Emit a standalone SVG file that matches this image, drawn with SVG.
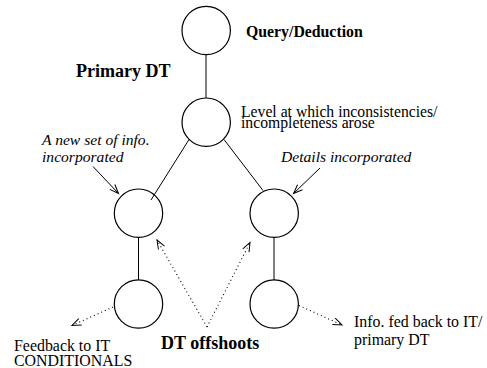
<svg xmlns="http://www.w3.org/2000/svg" width="487" height="368" viewBox="0 0 487 368">
  <style>
    .node { fill: none; stroke: #000; stroke-width: 1.2; }
    .edge { fill: none; stroke: #000; stroke-width: 1; }
    .dot { fill: none; stroke: #000; stroke-width: 1.1; stroke-dasharray: 1 3; }
    text { font-family: "Liberation Serif", "Times New Roman", serif; fill: #000; }
    .b { font-weight: bold; }
    .i { font-style: italic; }
  </style>
  <defs>
    <marker id="stick" markerWidth="12" markerHeight="10" refX="9" refY="4" orient="auto" markerUnits="userSpaceOnUse" overflow="visible">
      <polyline points="0,0.5 9,4 0,7.5" fill="none" stroke="#000" stroke-width="1"/>
    </marker>
  </defs>

  <!-- tree connectors -->
  <g id="connectors">
    <line class="edge" x1="206" y1="55" x2="206" y2="98"/>
    <line class="edge" x1="189" y1="139.5" x2="151" y2="200"/>
    <line class="edge" x1="224" y1="139.5" x2="263" y2="190.5"/>
    <line class="edge" x1="138.5" y1="237" x2="138.5" y2="280"/>
    <line class="edge" x1="274" y1="237" x2="274" y2="280"/>
    <!-- incoming information -->
    <line class="edge" x1="93" y1="166.5" x2="118.5" y2="193.5" marker-end="url(#stick)"/>
    <line class="edge" x1="320" y1="168" x2="293.5" y2="193.5" marker-end="url(#stick)"/>
    <!-- offshoot pointers -->
    <line class="dot" x1="207" y1="327" x2="157" y2="240" marker-end="url(#stick)"/>
    <line class="dot" x1="207" y1="327" x2="250" y2="242.5" marker-end="url(#stick)"/>
    <line class="dot" x1="113" y1="307" x2="72" y2="325.5" marker-end="url(#stick)"/>
    <line class="dot" x1="299" y1="305.5" x2="342" y2="325" marker-end="url(#stick)"/>
  </g>

  <g id="query"><circle class="node" cx="206.2" cy="30.5" r="24.2"/></g>
  <g id="level"><circle class="node" cx="206.2" cy="122.2" r="24.2"/></g>
  <g id="left-mid"><circle class="node" cx="138.5" cy="213.2" r="24.2"/></g>
  <g id="right-mid"><circle class="node" cx="274.2" cy="213.2" r="24.2"/></g>
  <g id="left-low"><circle class="node" cx="138.5" cy="304" r="24.2"/></g>
  <g id="right-low"><circle class="node" cx="274.2" cy="304" r="24.2"/></g>

  <g id="labels">
    <text class="b" x="246" y="36.5" font-size="15.8">Query/Deduction</text>
    <text class="b" x="76" y="76.7" font-size="18">Primary DT</text>
    <text x="241" y="116.5" font-size="15.7">Level at which inconsistencies/</text>
    <text x="241" y="127.5" font-size="15.7">incompleteness arose</text>
    <text class="i" x="42" y="145" font-size="15.6">A new set of info.</text>
    <text class="i" x="42" y="161.7" font-size="15.6">incorporated</text>
    <text class="i" x="281" y="161.7" font-size="15.6">Details incorporated</text>
    <text x="14" y="350.5" font-size="15.9">Feedback to IT</text>
    <text x="14" y="365.5" font-size="15.9">CONDITIONALS</text>
    <text class="b" x="161" y="348.5" font-size="18">DT offshoots</text>
    <text x="354" y="327.3" font-size="15.9">Info. fed back to IT/</text>
    <text x="354" y="345" font-size="15.9">primary DT</text>
  </g>
</svg>
